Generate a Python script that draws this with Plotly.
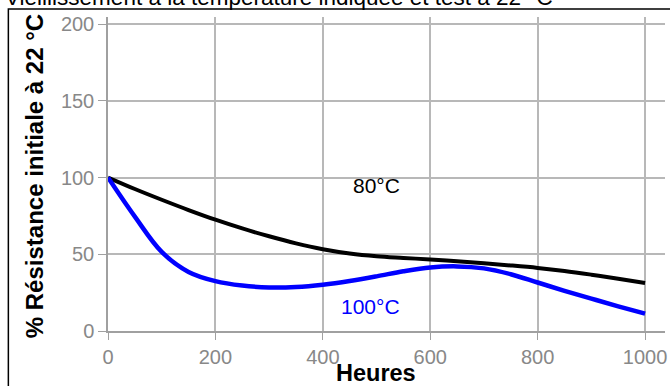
import plotly.graph_objects as go

hours = [0, 50, 100, 150, 200, 250, 300, 350, 400, 450, 500,
         550, 600, 650, 700, 750, 800, 850, 900, 950, 1000]
res_80 = [100, 92.5, 85.5, 78.8, 72.5, 66.8, 61.7, 57.1, 53.3, 50.5, 48.7,
          47.6, 46.6, 45.4, 44.1, 42.7, 41.1, 39.1, 36.7, 34.1, 31.3]
res_100 = [100, 74.5, 51.5, 38.5, 32.5, 29.6, 28.4, 28.7, 30.2, 32.6, 35.6,
           38.9, 41.4, 42.1, 40.8, 37.0, 31.6, 26.2, 21.1, 16.1, 11.3]

x_ticks = [0, 200, 400, 600, 800, 1000]
y_ticks = [0, 50, 100, 150, 200]

title_text = "Vieillissement à la température indiquée et test à 22 °C"
y_title = "% Résistance initiale à 22 °C"
x_title = "Heures"
label_80 = "80°C"
label_100 = "100°C"

FONT = "Arial, Liberation Sans, sans-serif"
W, H = 670, 386
ML, MR, MT, MB = 108, 3, 17, 55
PW, PH = W - ML - MR, H - MT - MB

def px_to_paper_x(px):
    return (px - ML) / PW

def px_to_paper_y(py):
    return (H - MB - py) / PH

fig = go.Figure()
fig.add_trace(go.Scatter(x=hours, y=res_80, mode="lines",
                         line=dict(color="#000000", width=4, shape="spline", smoothing=1.0),
                         showlegend=False, name=label_80))
fig.add_trace(go.Scatter(x=hours, y=res_100, mode="lines",
                         line=dict(color="#0000ff", width=4.5, shape="spline", smoothing=1.0),
                         showlegend=False, name=label_100))

fig.add_annotation(x=500, y=95, text=label_80, showarrow=False,
                   font=dict(family=FONT, size=21, color="#000000"))
fig.add_annotation(x=489, y=16, text=label_100, showarrow=False,
                   font=dict(family=FONT, size=21, color="#0000ff"))

# title (partly cut at the top, as in the reference)
fig.add_annotation(xref="paper", yref="paper", x=px_to_paper_x(3), y=px_to_paper_y(-2),
                   xanchor="left", yanchor="middle", text=title_text, showarrow=False,
                   font=dict(family=FONT, size=22.5, color="#000000"))
# axis titles
fig.add_annotation(xref="paper", yref="paper", x=px_to_paper_x(34), y=px_to_paper_y(176),
                   xanchor="center", yanchor="middle", text="<b>" + y_title + "</b>",
                   textangle=-90, showarrow=False,
                   font=dict(family=FONT, size=24, color="#000000"))
fig.add_annotation(xref="paper", yref="paper", x=px_to_paper_x(377), y=px_to_paper_y(373),
                   xanchor="center", yanchor="middle", text="<b>" + x_title + "</b>",
                   showarrow=False,
                   font=dict(family=FONT, size=23.5, color="#000000"))

# outer frame
fig.add_shape(type="rect", xref="paper", yref="paper",
              x0=px_to_paper_x(8), x1=px_to_paper_x(700),
              y0=px_to_paper_y(420), y1=px_to_paper_y(9),
              line=dict(color="#000000", width=1.5), fillcolor="rgba(0,0,0,0)", layer="below")

x_max = 1000 + (W - MR - 647) / 0.539
y_max = 200 + (24 - MT) / 1.535

fig.update_layout(
    width=W, height=H,
    margin=dict(l=ML, r=MR, t=MT, b=MB, pad=0),
    paper_bgcolor="#ffffff", plot_bgcolor="#ffffff",
    font=dict(family=FONT, size=19, color="#888888"),
    xaxis=dict(range=[0, x_max], tickvals=x_ticks, ticktext=[str(v) for v in x_ticks],
               showgrid=True, gridcolor="#b8b8b8", gridwidth=1.5,
               showline=True, linecolor="#a0a0a0", linewidth=1.5,
               ticks="outside", ticklen=7, tickcolor="#a0a0a0", tickwidth=1,
               tickfont=dict(family=FONT, size=20, color="#888888"),
               zeroline=False, fixedrange=True),
    yaxis=dict(range=[0, y_max], tickvals=y_ticks, ticktext=[str(v) for v in y_ticks],
               showgrid=True, gridcolor="#b8b8b8", gridwidth=1.5,
               showline=True, linecolor="#a0a0a0", linewidth=1.5,
               ticks="outside", ticklen=8, tickcolor="#a0a0a0", tickwidth=1,
               tickfont=dict(family=FONT, size=20, color="#888888"),
               zeroline=False, fixedrange=True),
)

fig.write_html("out.html", config={"displayModeBar": False},
               post_script="document.body.style.margin='0';document.body.style.overflow='hidden';")
